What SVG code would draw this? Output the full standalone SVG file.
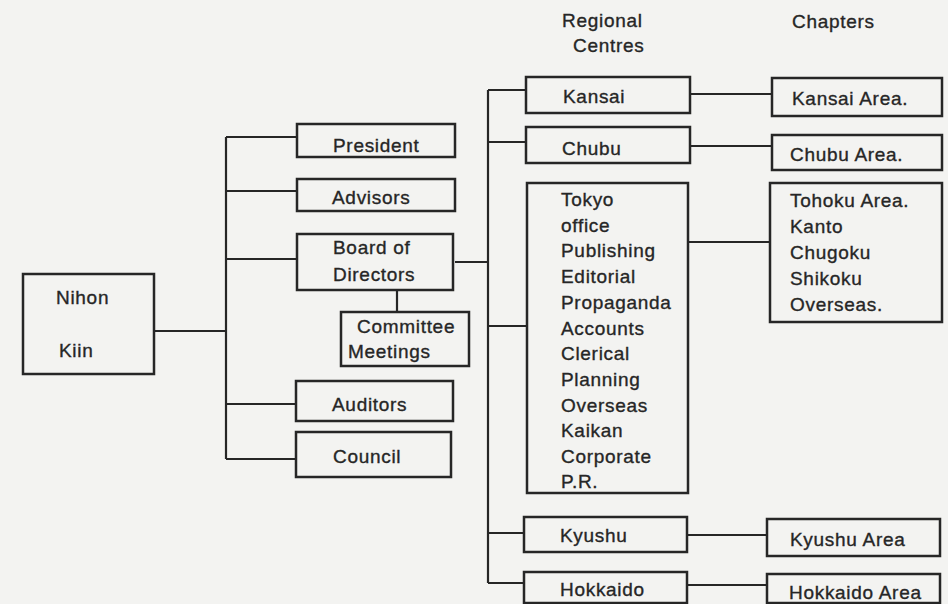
<svg xmlns="http://www.w3.org/2000/svg" width="948" height="604" viewBox="0 0 948 604">
<style>
.bg{fill:#f3f3f1}
.box{fill:none;stroke:#262626;stroke-width:2.5}
.ln{fill:none;stroke:#262626;stroke-width:2.2}
text{font-family:"Liberation Sans",Arial,sans-serif;font-size:19px;fill:#262626;stroke:#262626;stroke-width:0.35;letter-spacing:0.7px}
</style>
<rect class="bg" x="0" y="0" width="948" height="604"/>
<g id="connectors">
<path class="ln" d="M154 331 H226 M226 137 V459 M226 137 H297 M226 191 H297 M226 259 H297 M226 404 H296 M226 459 H296"/>
<path class="ln" d="M397 290 V312 M455 262 H488"/>
<path class="ln" d="M488 90 V583 M488 90 H526 M488 142 H526 M488 326 H527 M488 533 H524 M488 583 H524"/>
<path class="ln" d="M690 94 H772 M690 146 H772 M688 242 H770 M687 535 H767 M687 585 H767"/>
</g>
<g id="headers">
<text x="562" y="27">Regional</text>
<text x="573" y="52">Centres</text>
<text x="792" y="28">Chapters</text>
</g>
<g id="nihon-kiin">
<rect class="box" x="23" y="274" width="131" height="100"/>
<text x="56" y="304" font-size="20" letter-spacing="2">Nihon</text>
<text x="59" y="357" font-size="20" letter-spacing="2">Kiin</text>
</g>
<g id="president">
<rect class="box" x="297" y="124" width="158" height="33"/>
<text x="333" y="152">President</text>
</g>
<g id="advisors">
<rect class="box" x="297" y="179" width="158" height="32"/>
<text x="332" y="204">Advisors</text>
</g>
<g id="board">
<rect class="box" x="297" y="234" width="156" height="56"/>
<text x="333" y="254">Board of</text>
<text x="333" y="281">Directors</text>
</g>
<g id="committee">
<rect class="box" x="341" y="312" width="128" height="54"/>
<text x="357" y="333">Committee</text>
<text x="348" y="358">Meetings</text>
</g>
<g id="auditors">
<rect class="box" x="296" y="381" width="157" height="40"/>
<text x="332" y="411">Auditors</text>
</g>
<g id="council">
<rect class="box" x="296" y="432" width="155" height="45"/>
<text x="333" y="463">Council</text>
</g>
<g id="kansai">
<rect class="box" x="526" y="77" width="164" height="36"/>
<text x="563" y="103">Kansai</text>
</g>
<g id="chubu">
<rect class="box" x="526" y="127" width="164" height="36"/>
<text x="562" y="155">Chubu</text>
</g>
<g id="tokyo">
<rect class="box" x="527" y="183" width="161" height="310"/>
<text x="561" y="206">Tokyo</text>
<text x="561" y="232">office</text>
<text x="561" y="257">Publishing</text>
<text x="561" y="283">Editorial</text>
<text x="561" y="309">Propaganda</text>
<text x="561" y="335">Accounts</text>
<text x="561" y="360">Clerical</text>
<text x="561" y="386">Planning</text>
<text x="561" y="412">Overseas</text>
<text x="561" y="437">Kaikan</text>
<text x="561" y="463">Corporate</text>
<text x="561" y="488">P.R.</text>
</g>
<g id="kyushu">
<rect class="box" x="524" y="517" width="163" height="35"/>
<text x="560" y="542">Kyushu</text>
</g>
<g id="hokkaido">
<rect class="box" x="524" y="572" width="163" height="31"/>
<text x="560" y="596">Hokkaido</text>
</g>
<g id="kansai-area">
<rect class="box" x="772" y="78" width="170" height="38"/>
<text x="792" y="105">Kansai Area.</text>
</g>
<g id="chubu-area">
<rect class="box" x="772" y="135" width="170" height="35"/>
<text x="790" y="161">Chubu Area.</text>
</g>
<g id="tohoku-area">
<rect class="box" x="770" y="183" width="172" height="139"/>
<text x="790" y="207">Tohoku Area.</text>
<text x="790" y="233">Kanto</text>
<text x="790" y="259">Chugoku</text>
<text x="790" y="285">Shikoku</text>
<text x="790" y="311">Overseas.</text>
</g>
<g id="kyushu-area">
<rect class="box" x="767" y="519" width="173" height="37"/>
<text x="790" y="546">Kyushu Area</text>
</g>
<g id="hokkaido-area">
<rect class="box" x="767" y="574" width="173" height="29"/>
<text x="789" y="599">Hokkaido Area</text>
</g>
</svg>
